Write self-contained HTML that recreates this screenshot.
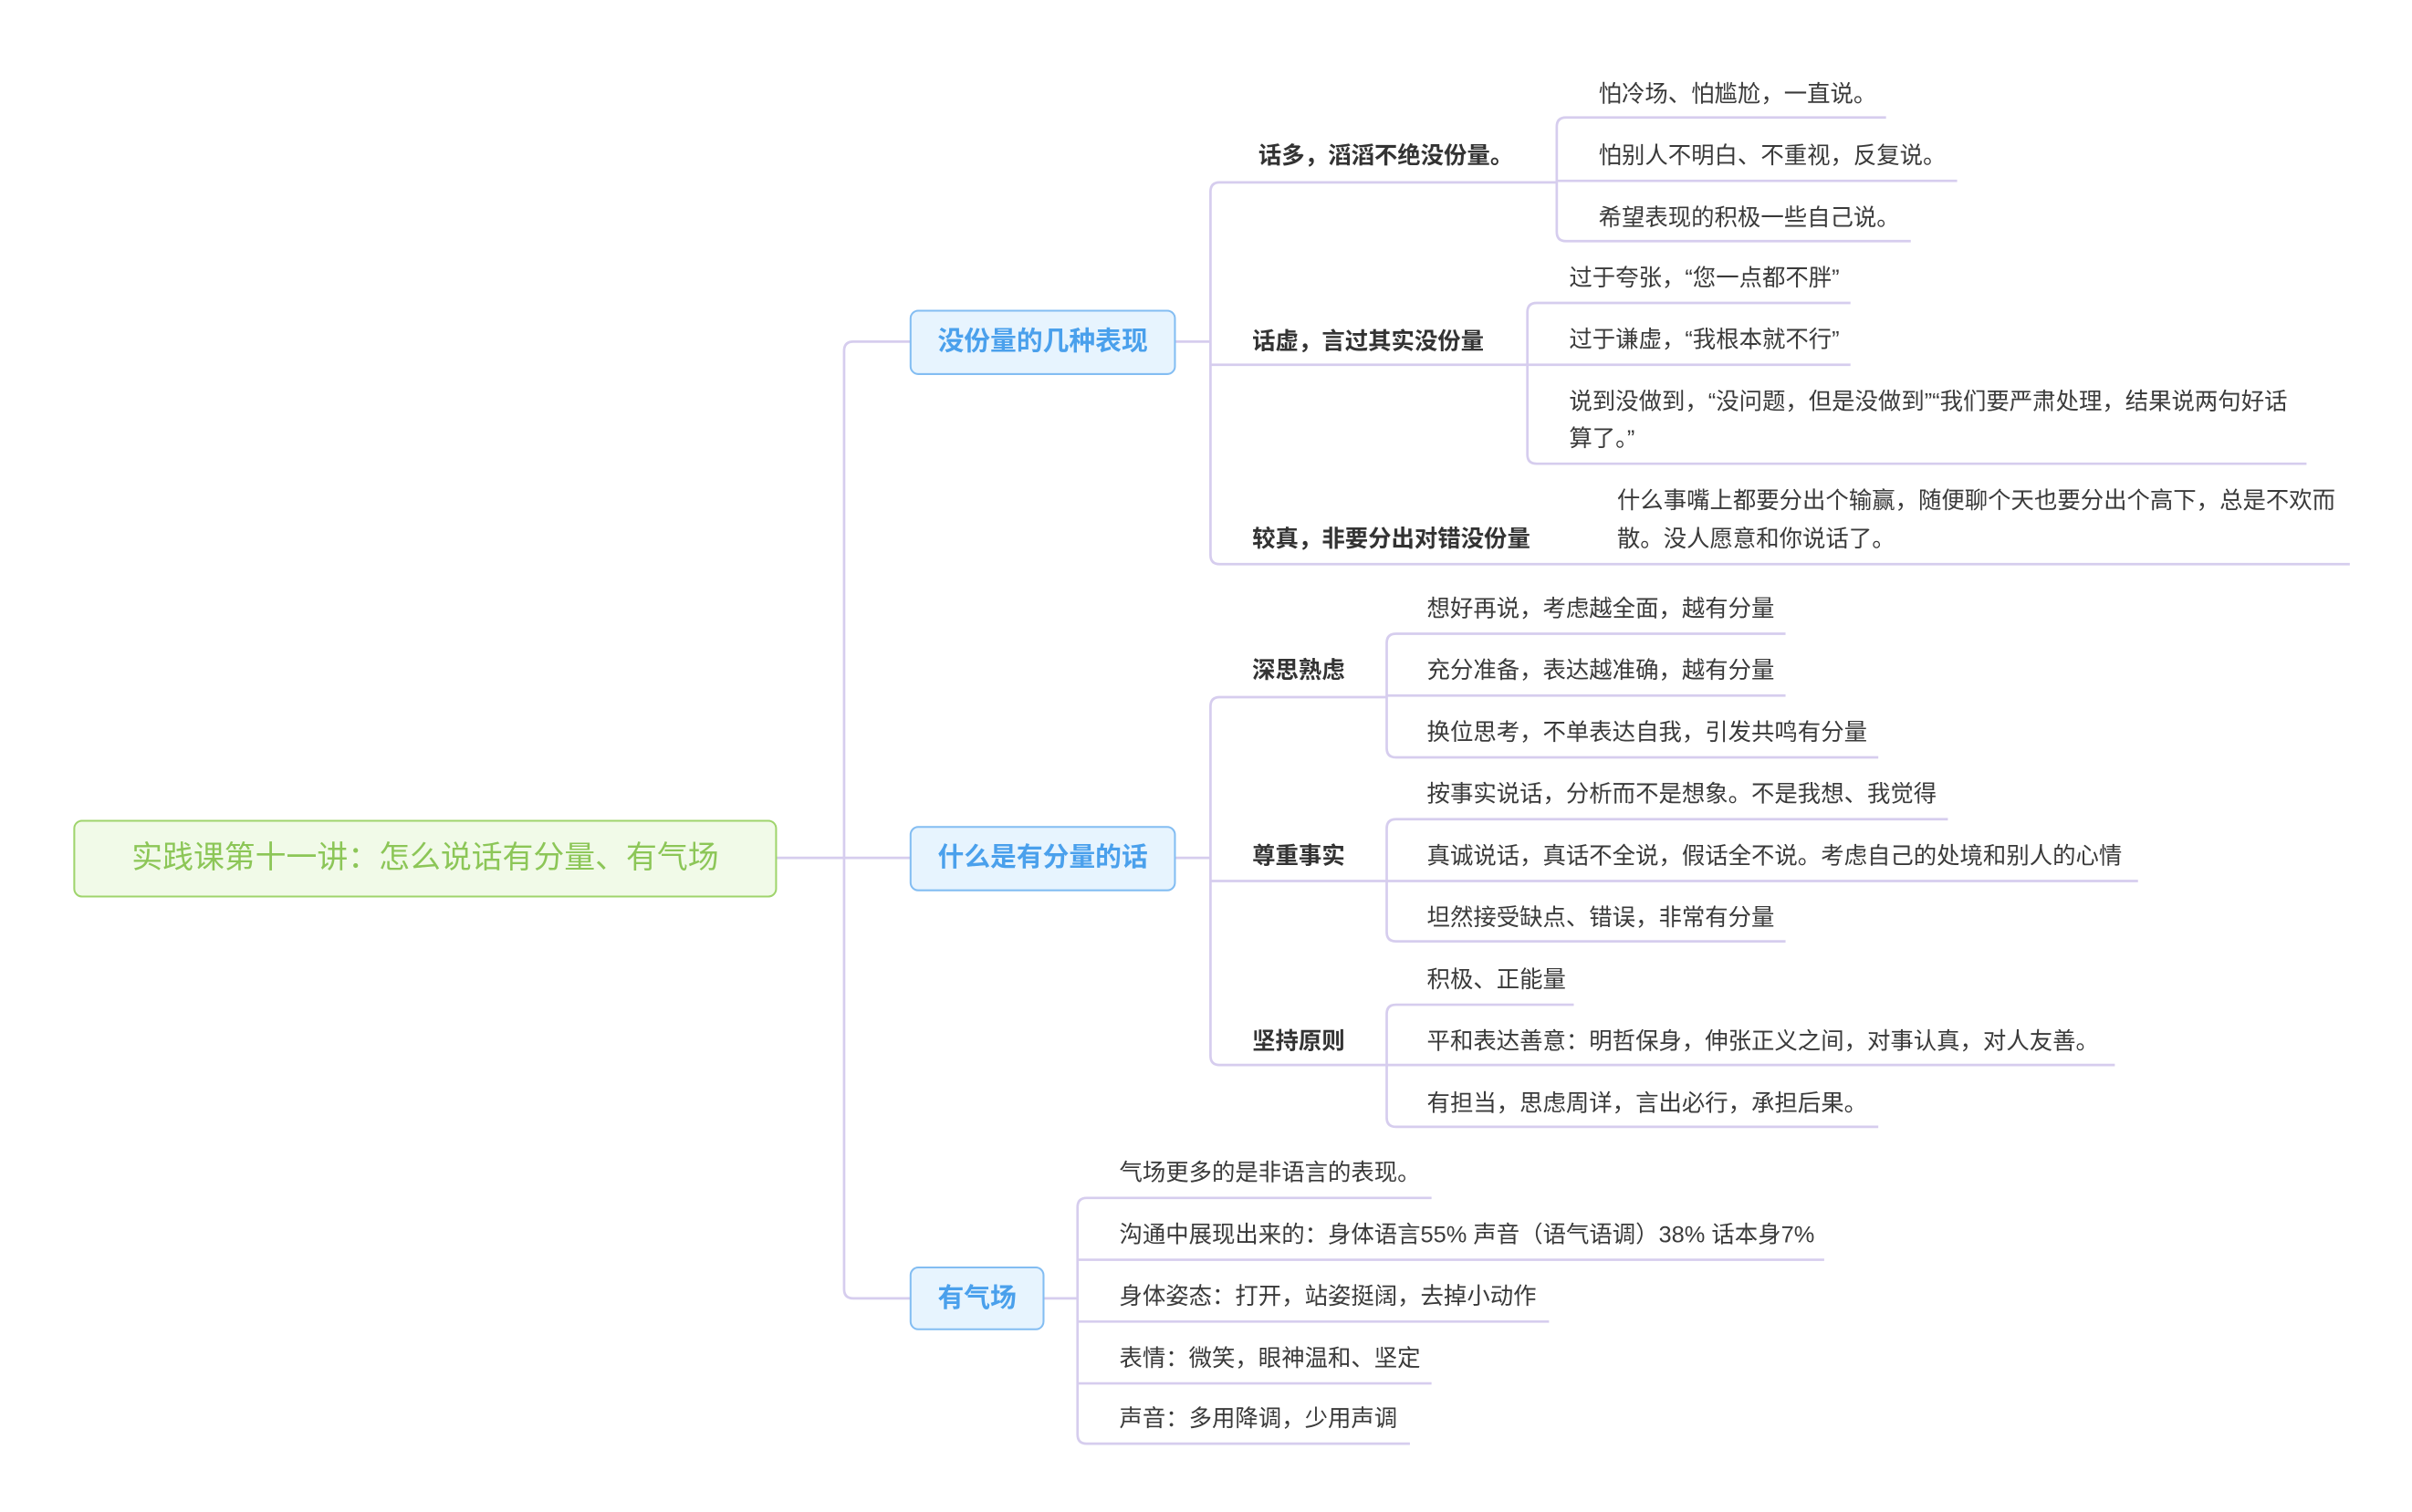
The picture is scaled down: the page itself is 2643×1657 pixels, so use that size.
<!DOCTYPE html>
<html><head><meta charset="utf-8"><style>
html,body{margin:0;padding:0;background:#fff;}
svg{display:block;}
text{font-family:"Liberation Sans","Noto Sans CJK SC",sans-serif;}
.t{font-size:15px;fill:#3a3a3a;dominant-baseline:central;}
.b{font-size:15px;fill:#333;font-weight:bold;dominant-baseline:central;}
.k{font-size:17px;fill:#4aa0ec;font-weight:bold;dominant-baseline:central;text-anchor:middle;}
.l{fill:none;stroke:#d6cdee;stroke-width:1.6;}
</style></head><body>
<svg width="2643" height="1657" viewBox="0 0 1560.2 978.2" xmlns="http://www.w3.org/2000/svg">
<rect width="1560.2" height="978.2" fill="#fff"/>
<!-- root connectors -->
<path class="l" d="M502 555 H589"/>
<path class="l" d="M589 221 H552 Q546 221 546 227 V834 Q546 840 552 840 H589"/>
<!-- group1 -->
<path class="l" d="M760 221 H783"/>
<path class="l" d="M1007 118 H789 Q783 118 783 124 V359 Q783 365 789 365 H1520"/>
<path class="l" d="M783 236 H988"/>
<path class="l" d="M1220 76 H1013 Q1007 76 1007 82 V150 Q1007 156 1013 156 H1236"/>
<path class="l" d="M1007 117 H1266"/>
<path class="l" d="M1197 196 H994 Q988 196 988 202 V294 Q988 300 994 300 H1492"/>
<path class="l" d="M988 236 H1197"/>
<!-- group2 -->
<path class="l" d="M760 555 H783"/>
<path class="l" d="M897 451 H789 Q783 451 783 457 V683 Q783 689 789 689 H897"/>
<path class="l" d="M783 570 H897"/>
<path class="l" d="M1155 410 H903 Q897 410 897 416 V484 Q897 490 903 490 H1215"/>
<path class="l" d="M897 450 H1155"/>
<path class="l" d="M1260 530 H903 Q897 530 897 536 V603 Q897 609 903 609 H1155"/>
<path class="l" d="M897 570 H1383"/>
<path class="l" d="M1018 650 H903 Q897 650 897 656 V723 Q897 729 903 729 H1215"/>
<path class="l" d="M897 689 H1368"/>
<!-- group3 -->
<path class="l" d="M675 840 H697"/>
<path class="l" d="M926 775 H703 Q697 775 697 781 V928 Q697 934 703 934 H912"/>
<path class="l" d="M697 815 H1180"/>
<path class="l" d="M697 855 H1002"/>
<path class="l" d="M697 895 H926"/>
<!-- boxes -->
<rect x="48" y="531" width="454" height="49" rx="5" fill="#f1fae8" stroke="#9fd46c" stroke-width="1.2"/>
<text x="275" y="555" style="font-size:20px;fill:#8cc657;dominant-baseline:central;text-anchor:middle">实践课第十一讲：怎么说话有分量、有气场</text>
<rect x="589" y="201" width="171" height="41" rx="5" fill="#e7f4fe" stroke="#83bdf2" stroke-width="1.2"/>
<text class="k" x="674.5" y="221">没份量的几种表现</text>
<rect x="589" y="535" width="171" height="41" rx="5" fill="#e7f4fe" stroke="#83bdf2" stroke-width="1.2"/>
<text class="k" x="674.5" y="555">什么是有分量的话</text>
<rect x="589" y="820" width="86" height="40" rx="5" fill="#e7f4fe" stroke="#83bdf2" stroke-width="1.2"/>
<text class="k" x="632" y="840">有气场</text>
<!-- group1 text -->
<text class="b" x="814" y="101">话多，滔滔不绝没份量。</text>
<text class="t" x="1034" y="61">怕冷场、怕尴尬，一直说。</text>
<text class="t" x="1034" y="101">怕别人不明白、不重视，反复说。</text>
<text class="t" x="1034" y="141">希望表现的积极一些自己说。</text>
<text class="b" x="810" y="221">话虚，言过其实没份量</text>
<text class="t" x="1015" y="180">过于夸张，“您一点都不胖”</text>
<text class="t" x="1015" y="220">过于谦虚，“我根本就不行”</text>
<text class="t" x="1015" y="260">说到没做到，“没问题，但是没做到”“我们要严肃处理，结果说两句好话</text>
<text class="t" x="1015" y="284">算了。”</text>
<text class="b" x="810" y="349">较真，非要分出对错没份量</text>
<text class="t" x="1046" y="324">什么事嘴上都要分出个输赢，随便聊个天也要分出个高下，总是不欢而</text>
<text class="t" x="1046" y="349">散。没人愿意和你说话了。</text>
<!-- group2 text -->
<text class="b" x="810" y="434">深思熟虑</text>
<text class="t" x="923" y="394">想好再说，考虑越全面，越有分量</text>
<text class="t" x="923" y="434">充分准备，表达越准确，越有分量</text>
<text class="t" x="923" y="474">换位思考，不单表达自我，引发共鸣有分量</text>
<text class="b" x="810" y="554">尊重事实</text>
<text class="t" x="923" y="514">按事实说话，分析而不是想象。不是我想、我觉得</text>
<text class="t" x="923" y="554">真诚说话，真话不全说，假话全不说。考虑自己的处境和别人的心情</text>
<text class="t" x="923" y="594">坦然接受缺点、错误，非常有分量</text>
<text class="b" x="810" y="674">坚持原则</text>
<text class="t" x="923" y="634">积极、正能量</text>
<text class="t" x="923" y="674">平和表达善意：明哲保身，伸张正义之间，对事认真，对人友善。</text>
<text class="t" x="923" y="714">有担当，思虑周详，言出必行，承担后果。</text>
<!-- group3 text -->
<text class="t" x="724" y="759">气场更多的是非语言的表现。</text>
<text class="t" x="724" y="799">沟通中展现出来的：身体语言55% 声音（语气语调）38% 话本身7%</text>
<text class="t" x="724" y="839">身体姿态：打开，站姿挺阔，去掉小动作</text>
<text class="t" x="724" y="879">表情：微笑，眼神温和、坚定</text>
<text class="t" x="724" y="918">声音：多用降调，少用声调</text>
</svg>
</body></html>
